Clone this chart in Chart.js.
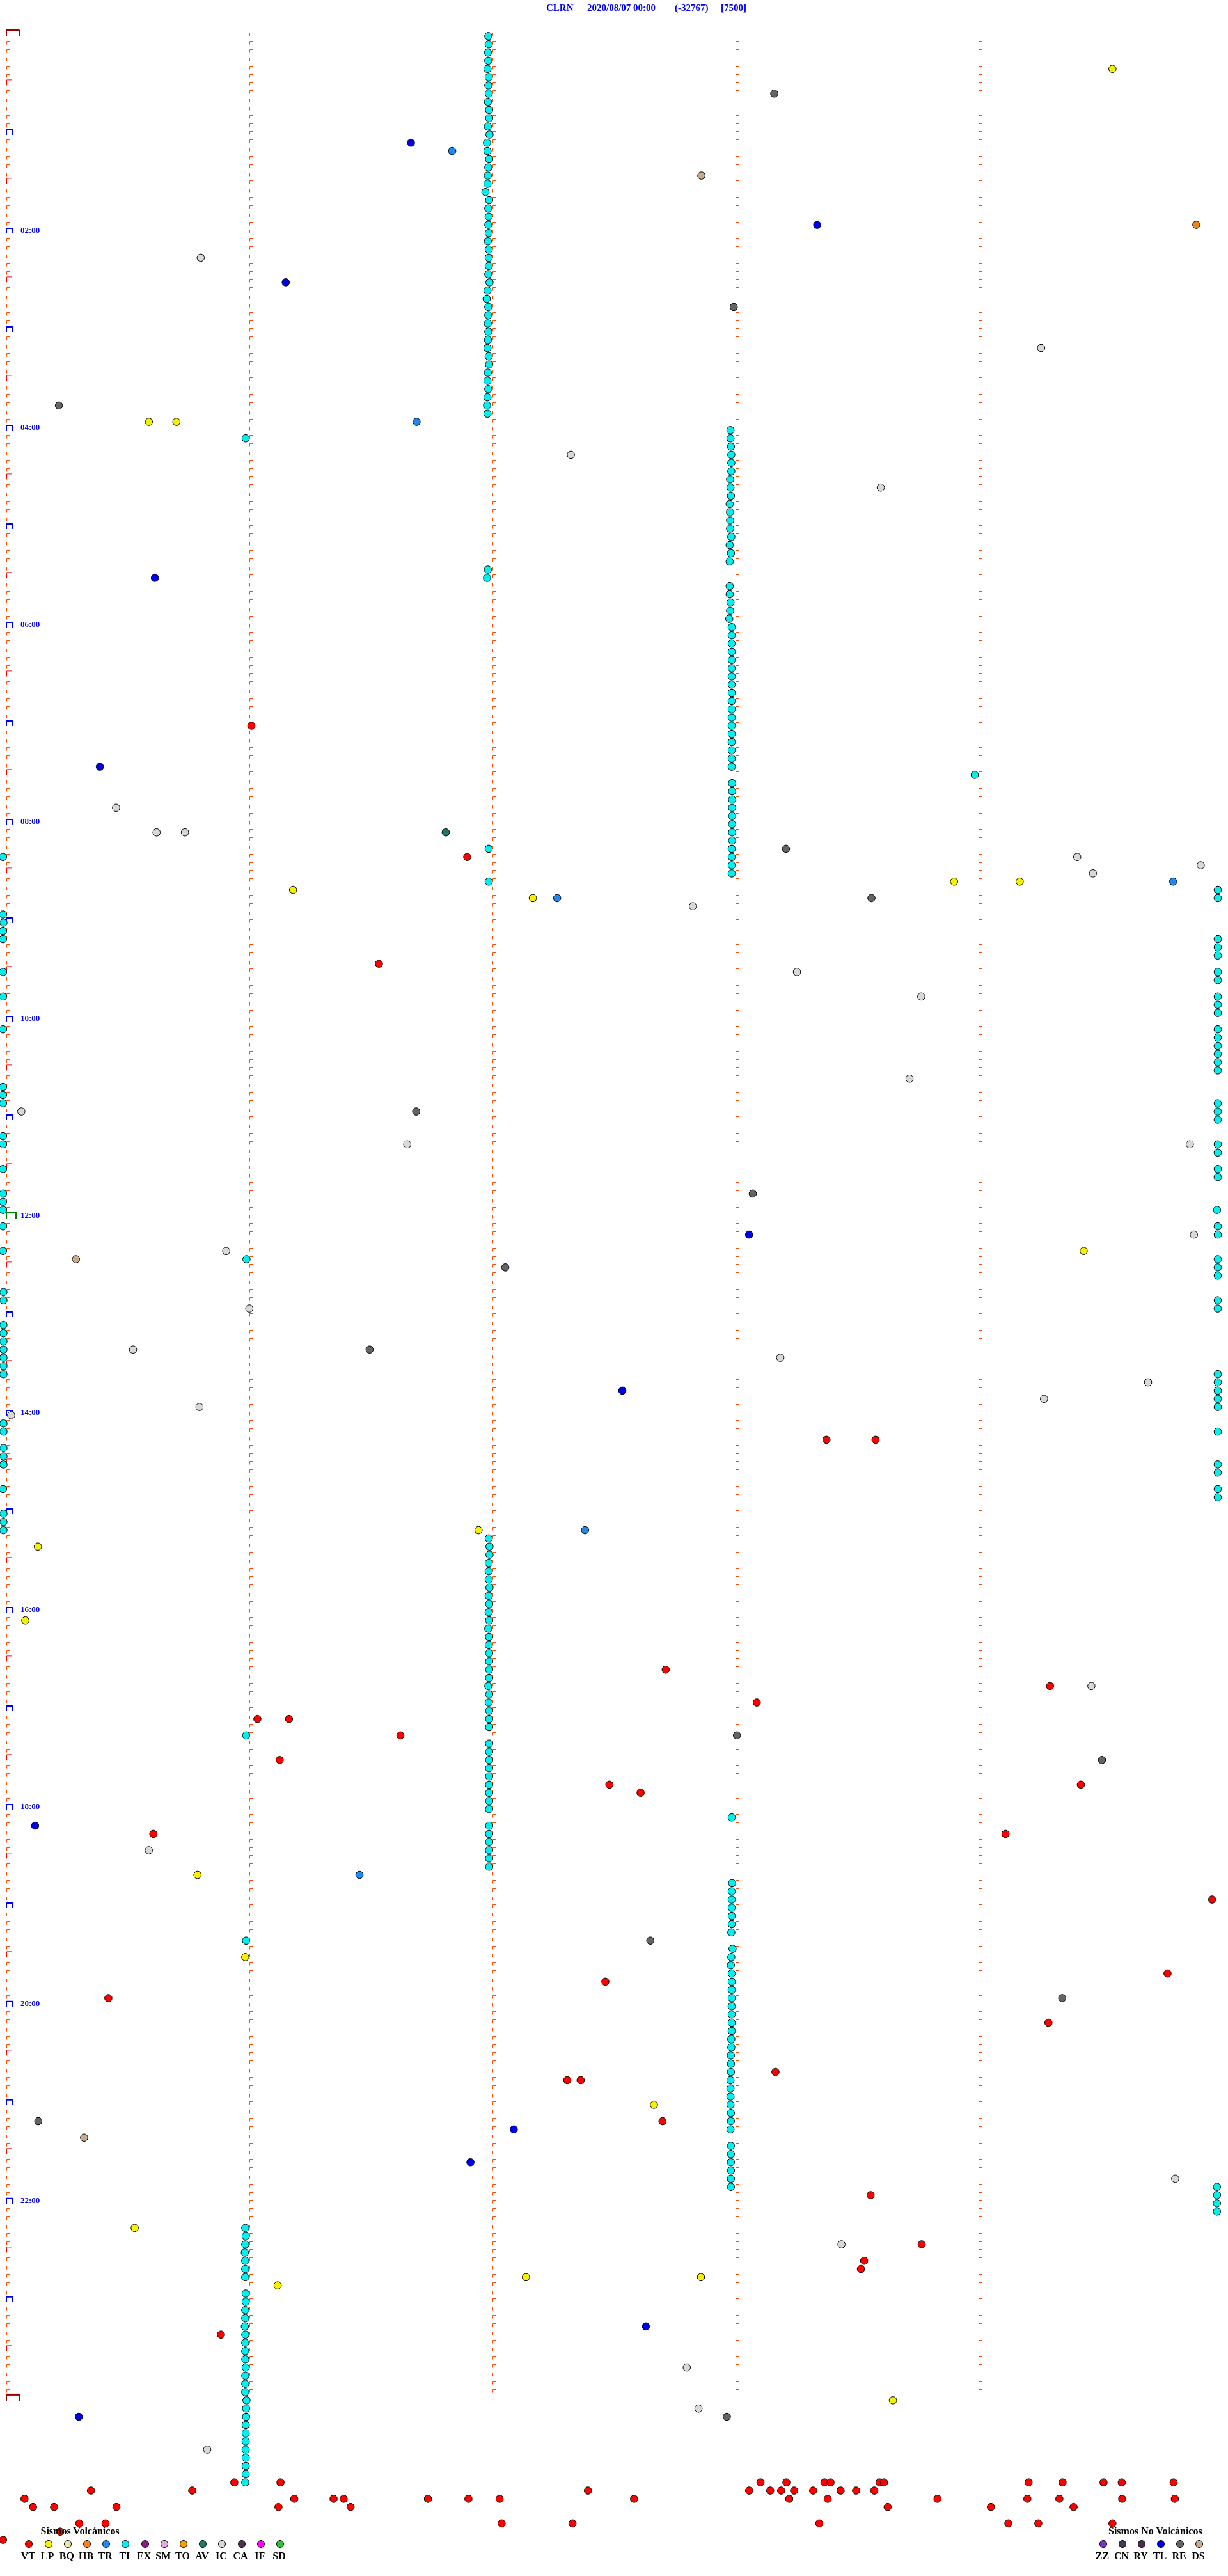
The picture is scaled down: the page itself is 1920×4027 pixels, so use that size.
<!DOCTYPE html>
<html lang="es">
<head>
<meta charset="utf-8">
<title>CLRN 2020/08/07</title>
<script src="https://cdn.jsdelivr.net/npm/chart.js@4.4.1/dist/chart.umd.min.js"></script>
<style>
  html, body { margin: 0; padding: 0; background: #fff; }
  #hoja { position: relative; width: 1920px; height: 4027px; overflow: hidden;
          font-family: "Liberation Serif", "Times New Roman", serif; font-weight: bold; }
  #grafico { position: absolute; left: 0; top: 0; }
  .txt { position: absolute; white-space: nowrap; }
  .titulo { top: 5px; font-size: 15px; line-height: 15px; color: #0000f0; }
  .hora { left: 32px; font-size: 13px; line-height: 13px; color: #0000f0; }
  .ley-tit { top: 3949px; font-size: 16px; line-height: 16px; color: #000; }
  .ley-cod { top: 3988px; width: 40px; margin-left: -20px; text-align: center;
             font-size: 16px; line-height: 16px; color: #000; }
  .ley-pto { position: absolute; top: 3971px; width: 10px; height: 10px; margin-left: -6px;
             border: 1px solid #000; border-radius: 50%; }
</style>
</head>
<body>
<div id="hoja">
  <canvas id="grafico" width="1920" height="4027"></canvas>
</div>
<script>
// Cada línea = bloque de 5 minutos (288 por día). x = segundos dentro del bloque, y = nº de línea.
// Los eventos se guardan como [segundo, línea].

const VT = [
  [60.0,84],[113.3,100],[91.5,113],[202.0,171],[214.1,171],[162.3,199],[257.2,201],[184.8,203],
  [61.5,205],[69.3,205],[96.8,207],[67.0,210],[148.4,213],[264.8,213],[156.1,214],[35.8,219],
  [246.2,219],[297.2,227],[286.2,236],[147.4,237],[24.7,239],[256.8,242],[189.4,248],[138.0,249],
  [141.3,249],[161.5,254],[212.9,263],[225.5,269],[211.3,271],[210.5,272],[52.5,280],
  // franja inferior
  [55.8,298],[67.2,298],[185.7,298],[192.1,298],[201.5,298],[203.0,298],[215.1,298],[216.2,298],
  [251.9,298],[260.3,298],[270.4,298],[274.9,298],[287.7,298],
  [20.4,299],[45.4,299],[143.1,299],[182.9,299],[188.1,299],[190.8,299],[194.0,299],[198.7,299],
  [205.5,299],[209.3,299],[213.8,299],
  [4.0,300],[70.6,300],[80.3,300],[82.8,300],[103.6,300],[113.6,300],[121.3,300],[154.5,300],
  [192.8,300],[202.3,300],[229.4,300],[251.6,300],[259.5,300],[275.0,300],[288.0,300],
  [6.1,301],[11.3,301],[26.7,301],[66.7,301],[84.5,301],[217.1,301],[242.6,301],[263.0,301],
  [17.5,303],[24.0,303],[121.8,303],[139.3,303],[200.2,303],[246.9,303],[254.3,303],[272.6,303],
  [12.8,304],[-1.3,305]
];

const LP = [
  [272.6,4],[34.7,47],[41.5,47],[233.5,103],[249.7,103],[70.3,104],[129.5,105],[265.5,148],
  [116.1,182],[7.3,184],[4.2,193],[46.7,224],[58.5,234],[159.4,252],[31.2,267],[127.8,273],
  [171.0,273],[66.5,274],[218.4,288]
];

const BQ = [];
const HB = [[293.3,23]];
const TR = [[109.6,14],[100.8,47],[287.6,103],[135.5,105],[142.4,182],[86.7,224]];

const TI = [
  // columna del minuto 2, 00:00 - 03:50
  [118.5,0],[118.6,1],[118.4,2],[118.5,3],[118.3,4],[118.6,5],[118.5,6],[118.6,7],[118.4,8],[118.7,9],
  [118.7,10],[118.4,11],[118.8,12],[118.2,13],[118.3,14],[118.7,15],[118.5,16],[118.4,17],[118.3,18],[117.8,19],
  [118.7,20],[118.5,21],[118.6,22],[118.5,23],[118.6,24],[118.4,25],[118.6,26],[118.6,27],[118.6,28],[118.5,29],
  [118.8,30],[118.3,31],[118.1,32],[118.5,33],[118.5,34],[118.4,35],[118.5,36],[118.4,37],[118.3,38],[118.6,39],
  [118.7,40],[118.4,41],[118.3,42],[118.5,43],[118.3,44],[118.2,45],[118.3,46],
  [58.6,49],[118.4,65],[118.2,66],
  // columna del minuto 3
  [178.3,48],[178.3,49],[178.4,50],[178.5,51],[178.5,52],[178.5,53],[178.2,54],[178.3,55],[178.4,56],[178.1,57],
  [178.2,58],[178.2,59],[178.2,60],[178.5,61],[178.1,62],[178.4,63],[178.1,64],
  [178.1,67],[178.1,68],[178.3,69],[178.2,70],[178.0,71],[178.6,72],[178.6,73],[178.6,74],[178.6,75],[178.6,76],
  [178.6,77],[178.6,78],[178.6,79],[178.6,80],[178.6,81],[178.6,82],[178.6,83],[178.6,84],[178.6,85],[178.6,86],
  [178.6,87],[178.6,88],[178.6,89],
  [238.6,90],
  [178.7,91],[178.7,92],[178.7,93],[178.7,94],[178.7,95],[178.7,96],[178.7,97],[178.7,98],[178.6,99],[178.6,100],
  [178.6,101],[178.6,102],
  [118.6,99],[118.6,103],
  // borde izquierdo
  [-1.3,100],[-1.3,107],[-1.2,108],[-1.3,109],[-1.3,110],[-1.3,114],[-1.3,117],[-1.3,121],[-1.3,128],[-1.3,129],
  [-1.3,130],[-1.3,134],[-1.3,135],[-1.3,138],[-1.3,141],[-1.3,142],[-1.3,143],[-1.3,145],[-1.3,148],[-1.2,153],
  [-1.2,154],[-1.2,157],[-1.2,158],[-1.2,159],[-1.2,160],[-1.2,161],[-1.2,162],[-1.2,163],[-1.2,169],[-1.2,170],
  [-1.2,172],[-1.2,173],[-1.2,174],[-1.3,177],[-1.2,180],[-1.2,181],[-1.2,182],
  // borde derecho
  [298.6,104],[298.6,105],[298.6,110],[298.6,111],[298.6,112],[298.6,114],[298.6,115],[298.6,117],[298.6,118],
  [298.6,119],[298.6,121],[298.6,122],[298.6,123],[298.6,124],[298.6,125],[298.6,126],[298.6,130],[298.6,131],
  [298.6,132],[298.6,135],[298.6,136],[298.6,138],[298.6,139],[298.4,143],[298.6,145],[298.6,146],[298.6,149],
  [298.6,150],[298.6,151],[298.6,154],[298.6,155],[298.6,163],[298.6,164],[298.6,165],[298.6,166],[298.6,167],
  [298.6,170],[298.6,174],[298.6,175],[298.6,177],[298.6,178],
  [58.8,149],
  // columna del minuto 2, tarde
  [118.6,183],[118.8,184],[118.8,185],[118.6,186],[118.6,187],[118.6,188],[118.8,189],[118.6,190],[118.7,191],
  [118.6,192],[118.7,193],[118.5,194],[118.7,195],[118.6,196],[118.7,197],[118.7,198],[118.7,199],[118.7,200],
  [118.5,201],[118.7,202],[118.6,203],[118.7,204],[118.7,205],[118.7,206],
  [58.7,207],
  [118.7,208],[118.7,209],[118.7,210],[118.7,211],[118.7,212],[118.7,213],[118.7,214],[118.7,215],[118.7,216],
  [118.7,218],[118.7,219],[118.7,220],[118.7,221],[118.7,222],[118.7,223],
  [178.6,217],
  // columna del minuto 3, tarde
  [178.7,225],[178.6,226],[178.6,227],[178.6,228],[178.6,229],[178.6,230],[178.5,231],
  [58.7,232],
  [178.8,233],[178.5,234],[178.4,235],[178.6,236],[178.6,237],[178.6,238],[178.6,239],[178.6,240],[178.6,241],
  [178.6,242],[178.6,243],[178.5,244],[178.5,245],[178.4,246],[178.4,247],[178.4,248],[178.3,249],[178.3,250],
  [178.3,251],[178.3,252],[178.4,253],[178.4,254],[178.3,255],
  [178.4,257],[178.4,258],[178.4,259],[178.4,260],[178.4,261],[178.4,262],
  [298.4,262],[298.4,263],[298.4,264],[298.4,265],
  // columna del minuto 1, noche
  [58.5,267],[58.6,268],[58.5,269],[58.4,270],[58.5,271],[58.5,272],[58.5,273],
  [58.6,275],[58.6,276],[58.5,277],[58.5,278],[58.4,279],[58.5,280],[58.5,281],[58.5,282],[58.5,283],
  [58.6,284],[58.5,285],[58.5,286],[58.5,287],[58.8,288],[58.7,289],[58.7,290],[58.6,291],[58.6,292],
  [58.6,293],[58.6,294],[58.6,295],[58.6,296],[58.6,297],[58.5,298]
];

const EX = [];
const SM = [];
const TO = [];
const AV = [[108.0,97]];
const IC = [
  [47.5,27],[255.0,38],[138.9,51],[215.4,55],[26.6,94],[36.6,97],[43.6,97],[263.9,100],[294.4,101],
  [267.8,102],[169.0,106],[194.7,114],[225.4,117],[222.5,127],[3.2,131],[98.5,135],[291.7,135],
  [292.7,146],[53.8,148],[59.5,155],[30.8,160],[190.6,161],[281.4,164],[255.7,166],[47.2,167],
  [0.7,168],[267.4,201],[34.7,221],[288.1,261],[205.7,269],[167.5,284],[170.4,289],[49.1,294]
];
const CA = [];
const IF = [];
const SD = [];

// sismos no volcánicos
const ZZ = [];
const CN = [];
const RY = [];
const TL = [
  [99.4,13],[199.7,23],[68.5,30],[36.2,66],[22.6,89],[182.9,146],[151.6,165],[6.6,218],[124.8,255],
  [114.1,259],[157.4,279],[17.4,290]
];
const RE = [
  [189.1,7],[179.1,33],[12.5,45],[192.0,99],[213.1,105],[100.7,131],[183.8,141],[122.7,150],[89.2,160],
  [179.9,207],[270.0,210],[158.5,232],[260.2,239],[7.4,254],[177.4,290]
];
const DS = [[171.1,17],[16.7,149],[18.7,256]];

// rejilla: columnas de minuto (s) y etiquetas horarias
const COLUMNAS_MIN = [0, 60, 120, 180, 240];
const LINEAS_DIA = 288;
const HORAS = ['02:00','04:00','06:00','08:00','10:00','12:00','14:00','16:00','18:00','20:00','22:00'];
const HORAS_LINEA = [24, 48, 72, 96, 120, 144, 168, 192, 216, 240, 264];

const TITULO = ['CLRN', '2020/08/07 00:00', '(-32767)', '[7500]'];

const COLOR = {
  VT: '#ff0000', LP: '#f4f000', BQ: '#efe4a0', HB: '#f58214', TR: '#2088ee', TI: '#00f0f0',
  EX: '#8a1a8a', SM: '#e6a8e6', TO: '#f2a200', AV: '#20786a', IC: '#d8d8d8', CA: '#503050',
  IF: '#ff00ff', SD: '#30c030',
  ZZ: '#7a30d0', CN: '#483858', RY: '#4a2a50', TL: '#0000f0', RE: '#646464', DS: '#c8aa8c'
};

const SERIES = { VT, LP, BQ, HB, TR, TI, EX, SM, TO, AV, IC, CA, IF, SD, ZZ, CN, RY, TL, RE, DS };
const VOLCANICOS = ['VT','LP','BQ','HB','TR','TI','EX','SM','TO','AV','IC','CA','IF','SD'];
const NO_VOLCANICOS = ['ZZ','CN','RY','TL','RE','DS'];

// marcas ⊓ de la rejilla, dibujadas con las escalas del gráfico
const marcas = {
  id: 'marcas',
  beforeDatasetsDraw(chart) {
    const { ctx, scales: { x, y } } = chart;
    const tramo = (x0, x1, top, bot, lw, color) => {
      ctx.beginPath();
      ctx.lineWidth = lw; ctx.strokeStyle = color;
      ctx.moveTo(x0, bot); ctx.lineTo(x0, top); ctx.lineTo(x1, top); ctx.lineTo(x1, bot);
      ctx.stroke();
    };
    ctx.save();
    for (let r = 0; r <= LINEAS_DIA; r++) {
      const py = y.getPixelForValue(r);
      for (const m of COLUMNAS_MIN) {
        const px = Math.round(x.getPixelForValue(m));
        if (m === 0) {
          if (r === 0 || r === LINEAS_DIA) {
            ctx.beginPath(); ctx.lineWidth = 3; ctx.strokeStyle = '#990000';
            ctx.moveTo(px - 3, py - 9); ctx.lineTo(px + 17, py - 9); ctx.stroke();
            tramo(px - 3, px + 17, py - 9, py + 0.6, 2, '#990000');
            continue;
          }
          if (r === LINEAS_DIA / 2) { tramo(px - 3, px + 12, py - 9.5, py + 0.6, 2, '#008000'); continue; }
          if (r % 12 === 0) { tramo(px - 3, px + 7, py - 7.5, py + 0.6, 2, '#0000f0'); continue; }
          if (r % 6 === 0) { tramo(px - 2.5, px + 5.5, py - 8.5, py, 1, '#ff0000'); continue; }
        } else if (r === LINEAS_DIA) continue;
        tramo(px - 2.5, px + 2.5, Math.round(py) - 4.5, Math.round(py) + 0.5, 1, '#ff4a00');
      }
    }
    ctx.restore();
  }
};

const datasets = VOLCANICOS.concat(NO_VOLCANICOS).map(k => ({
  label: k,
  data: SERIES[k].map(([s, l]) => ({ x: s, y: l })),
  showLine: false,
  pointRadius: 5.8,
  pointHoverRadius: 5.8,
  pointBorderWidth: 1,
  pointBorderColor: '#000',
  pointBackgroundColor: COLOR[k],
  backgroundColor: COLOR[k],
  borderColor: '#000',
  clip: false
}));

const chart = new Chart(document.getElementById('grafico'), {
  type: 'scatter',
  data: { datasets },
  plugins: [marcas],
  options: {
    responsive: false, animation: false, devicePixelRatio: 1, events: [],
    layout: { padding: 0, autoPadding: false },
    plugins: { legend: { display: false }, title: { display: false }, tooltip: { enabled: false } },
    scales: {
      x: { type: 'linear', display: false, min: -2.053, max: 301.13 },
      y: { type: 'linear', display: false, reverse: true, min: -4.395, max: 309.40 }
    }
  }
});

// textos
const hoja = document.getElementById('hoja');
function texto(cls, str, left, top) {
  const d = document.createElement('div');
  d.className = 'txt ' + cls;
  d.textContent = str;
  if (left != null) d.style.left = left + 'px';
  if (top != null) d.style.top = top + 'px';
  hoja.appendChild(d);
  return d;
}

[854, 918, 1055, 1127].forEach((left, i) => texto('titulo', TITULO[i], left));

const ys = chart.scales.y;
HORAS.forEach((h, i) => texto('hora', h, null, ys.getPixelForValue(HORAS_LINEA[i]) - 11.4));

function leyenda(titulo, tx, codigos, x0, paso) {
  texto('ley-tit', titulo, tx);
  codigos.forEach((k, i) => {
    const cx = x0 + i * paso;
    const p = document.createElement('div');
    p.className = 'ley-pto';
    p.style.left = cx + 'px';
    p.style.background = COLOR[k];
    hoja.appendChild(p);
    texto('ley-cod', k, cx - 1.5);
  });
}
leyenda('Sismos Volcánicos', 63.5, VOLCANICOS, 45.4, 30.2);
leyenda('Sismos No Volcánicos', 1733, NO_VOLCANICOS, 1725, 30);
</script>
</body>
</html>
